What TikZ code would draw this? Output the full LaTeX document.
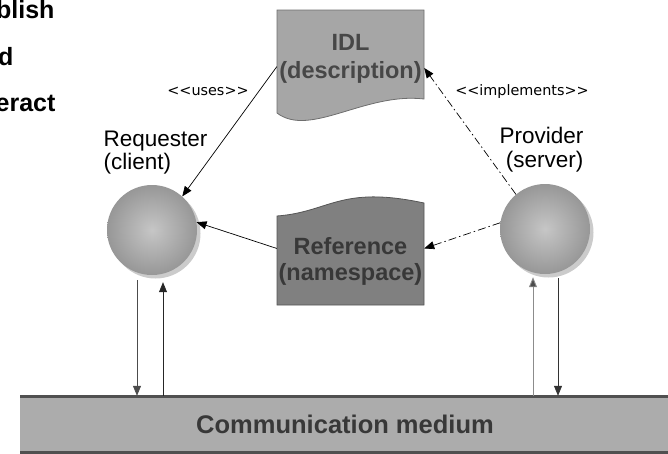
\documentclass[tikz,border=0pt]{standalone}
\usepackage{fontspec}
\setmainfont{Liberation Sans}
\newfontfamily\dvsans{DejaVu Sans}
\usetikzlibrary{arrows.meta,calc}
\definecolor{idlfill}{HTML}{A6A6A6}
\definecolor{idlline}{HTML}{6E6E6E}
\definecolor{reffill}{HTML}{808080}
\definecolor{refline}{HTML}{555555}
\definecolor{boxtext}{HTML}{474747}
\definecolor{reftext}{HTML}{383838}
\definecolor{barfill}{HTML}{ACACAC}
\definecolor{barline}{HTML}{505050}
\definecolor{shadowgray}{HTML}{CBCBCB}
\definecolor{sphin}{HTML}{C6C6C6}
\definecolor{sphout}{HTML}{979797}
\newcommand{\fsz}[1]{\fontsize{#1}{#1}\selectfont}
\begin{document}
\begin{tikzpicture}[x=1pt,y=-1pt,
  tip/.style={-{Triangle[length=10pt,width=8pt]}},
  dashdot/.style={dash pattern=on 8pt off 3pt on 1.5pt off 3pt},
  sphere/.style={circle,minimum size=90pt,inner sep=0pt,shading=radial,inner color=sphin,outer color=sphout},
  boxlabel/.style={anchor=base,font=\bfseries\fsz{23.5}},
  plainlabel/.style={font=\fsz{22.5}},
  stereo/.style={anchor=base,font=\dvsans\fsz{14.4}},
  sidetext/.style={anchor=base east,font=\bfseries\fsz{25}}
]
\useasboundingbox (0,0) rectangle (668,453);

% cut-off text at the left
\node[sidetext] (s1) at (58,18) {blish};
\node[sidetext] (s2) at (17,65) {d};
\node[sidetext] (s3) at (59,111) {eract};

% IDL document
\filldraw[fill=idlfill,draw=idlline,line width=0.8pt]
  (277,10) -- (424,10) -- (424,99) .. controls (365,92) and (310,138) .. (277,113) -- cycle;
\node[minimum width=147pt,minimum height=103pt,inner sep=0pt] (idl) at (350.5,61.5) {};
\node[boxlabel,text=boxtext] (idl1) at (350.5,50) {IDL};
\node[boxlabel,text=boxtext] (idl2) at (350.5,78) {(description)};

% Reference document
\filldraw[fill=reffill,draw=refline,line width=0.8pt]
  (277,216) .. controls (330,212) and (340,185) .. (424,203) -- (424,305) -- (277,305) -- cycle;
\node[minimum width=147pt,minimum height=95pt,inner sep=0pt] (ref) at (350.5,257.5) {};
\node[boxlabel,text=reftext] (ref1) at (350.5,254) {Reference};
\node[boxlabel,text=reftext] (ref2) at (350.5,280) {(namespace)};

% spheres with shadows
\fill[shadowgray] (155.5,233.5) circle (45pt);
\node[sphere] (req) at (152,230) {};
\fill[shadowgray] (548.5,232.5) circle (45pt);
\node[sphere] (prov) at (545,229) {};

% actor labels
\node[plainlabel,anchor=base west] (rq1) at (100,146) {Requester};
\node[plainlabel,anchor=base west] (rq2) at (100,169) {(client)};
\node[plainlabel,anchor=base east] (pv1) at (587,143) {Provider};
\node[plainlabel,anchor=base east] (pv2) at (587,167) {(server)};

% stereotypes
\node[stereo] (uses) at (208,95) {<{}<uses>{}>};
\node[stereo] (impl) at (522,95) {<{}<implements>{}>};

% communication medium
\fill[barfill] (20,396) rectangle (672,452);
\draw[barline,line width=3pt] (20,396) -- (672,396);
\draw[barline,line width=3pt] (20,452) -- (672,452);
\node[minimum width=652pt,minimum height=56pt,inner sep=0pt] (bar) at (346,424) {};
\node[anchor=base,font=\bfseries\fsz{25.5},text=reftext] (bartext) at (345,433) {Communication medium};

% connectors
\draw[tip,line width=0.7pt] (idl.184) -- (req.48);
\draw[tip,line width=0.7pt] (ref.173) -- (req.10);
\draw[tip,dashdot,line width=0.7pt] (prov.130) -- (idl.-5);
\draw[tip,dashdot,line width=0.7pt] (prov.172) -- (ref.7);

% vertical message arrows
\draw[tip,draw=black!70,fill=black!70,line width=0.7pt]
  ([xshift=-15pt,yshift=-5pt]req.south) -- ([xshift=-15pt]req.south |- bar.north);
\draw[tip,draw=black!85,fill=black!85,line width=0.7pt]
  ([xshift=11pt]req.south |- bar.north) -- ([xshift=11pt,yshift=-7pt]req.south);
\draw[-{Triangle[length=10pt,width=8pt,fill=black!70]},draw=black!45,line width=0.9pt]
  ([xshift=-12pt]prov.south |- bar.north) -- ([xshift=-12pt,yshift=-3pt]prov.south);
\draw[tip,draw=black!80,fill=black!80,line width=0.7pt]
  ([xshift=13pt,yshift=-4pt]prov.south) -- ([xshift=13pt]prov.south |- bar.north);
\end{tikzpicture}
\end{document}
